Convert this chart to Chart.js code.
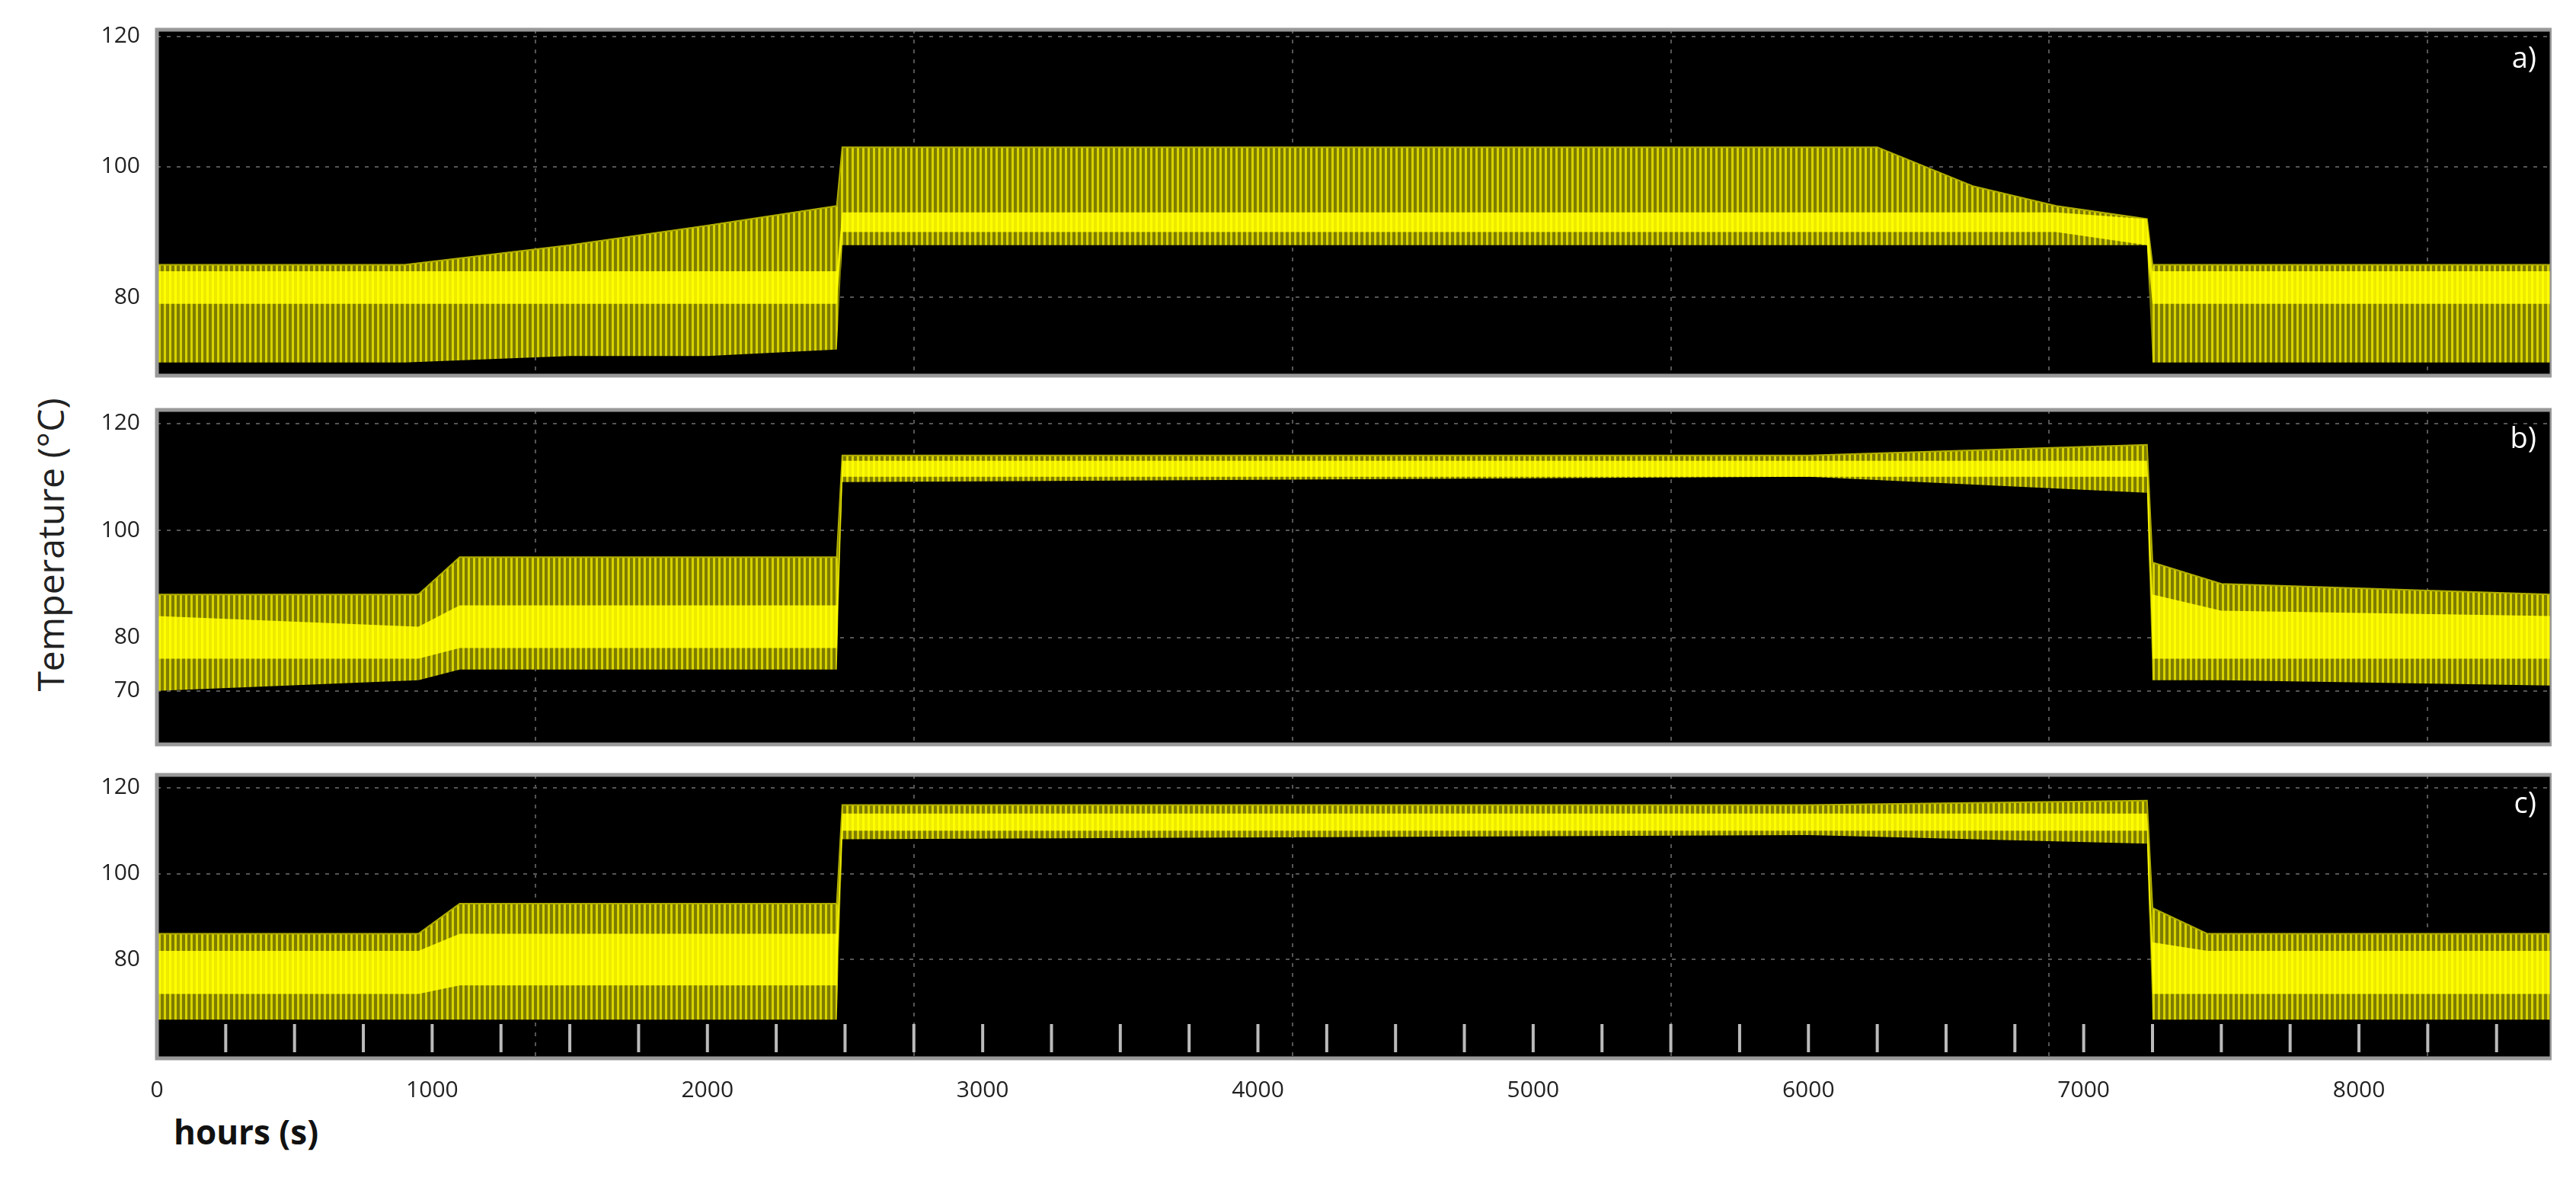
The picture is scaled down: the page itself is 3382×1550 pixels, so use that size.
<!DOCTYPE html>
<html><head><meta charset="utf-8">
<script src="https://cdn.jsdelivr.net/npm/chart.js@4"></script>
<style>
body{margin:0;background:#fff;width:3382px;height:1550px;position:relative;overflow:hidden;font-family:"Open Sans",sans-serif}
.p{position:absolute}
#yt{position:absolute;left:65px;top:715px;transform:translate(-50%,-50%) rotate(-90deg);font-size:48px;color:#222;white-space:nowrap}
#xt{position:absolute;left:228px;top:1455px;font-size:44px;font-weight:bold;color:#111}
</style></head><body>
<div id="yt">Temperature (°C)</div>
<div id="xt">hours (s)</div>
<div class="p" style="left:40px;top:-1px;width:3310px;height:534px"><canvas id="ca"></canvas></div>
<div class="p" style="left:40px;top:498px;width:3310px;height:519px"><canvas id="cb"></canvas></div>
<div class="p" style="left:40px;top:977px;width:3310px;height:496px"><canvas id="cc"></canvas></div>
<script>
// ---- data ----
const gridX = [1375, 2750, 4125, 5500, 6875, 8250];
const xTicks = [0,1000,2000,3000,4000,5000,6000,7000,8000];

const aX      = [0,900,1500,2000,2470,2490,6250,6600,6900,7230,7250,8700];
const aHi     = [85,85,88,91,94,103,103,97,94,92,85,85];
const aLo     = [70,70,71,71,72,88,88,88,88,88,70,70];
const aCoreHi = [84,84,84,84,84,93,93,93,93,92,84,84];
const aCoreLo = [79,79,79,79,79,90,90,90,90,88,79,79];
const aTicks  = [80,100,120];

const bX      = [0,950,1100,2470,2490,6000,7230,7250,7500,8700];
const bHi     = [88,88,95,95,114,114,116,94,90,88];
const bLo     = [70,72,74,74,109,110,107,72,72,71];
const bCoreHi = [84,82,86,86,113,113,113,88,85,84];
const bCoreLo = [76,76,78,78,110,110,110,76,76,76];
const bTicks  = [70,80,100,120];

const cX      = [0,950,1100,2470,2490,6000,7230,7250,7450,8700];
const cHi     = [86,86,93,93,116,116,117,92,86,86];
const cLo     = [66,66,66,66,108,109,107,66,66,66];
const cCoreHi = [82,82,86,86,114,114,114,84,82,82];
const cCoreLo = [72,72,74,74,110,110,110,72,72,72];
const cTicks  = [80,100,120];

// ---- style ----
function stripe(a,b){
  const c=document.createElement('canvas');c.width=7;c.height=10;
  const g=c.getContext('2d');g.fillStyle=b;g.fillRect(0,0,7,10);
  g.fillStyle=a;g.fillRect(0,0,3,10);
  return g.createPattern(c,'repeat');
}
const pat=stripe('#d6d200','#7e7c00');
const corePat=stripe('#ffff00','#eeea00');
const pts=(xs,ys)=>xs.map((x,i)=>({x,y:ys[i]}));

const bgPlugin={id:'bg',beforeDraw(ch){const a=ch.chartArea,g=ch.ctx;g.save();g.fillStyle='#000';g.fillRect(a.left,a.top,a.right-a.left,a.bottom-a.top);g.restore();},
 afterDraw(ch,args,o){const a=ch.chartArea,g=ch.ctx;g.save();
  g.strokeStyle='#999';g.lineWidth=5;g.strokeRect(a.left,a.top,a.right-a.left,a.bottom-a.top);
  g.fillStyle='#fff';g.font='38px "Open Sans"';g.textAlign='right';g.textBaseline='top';g.fillText(o.label,a.right-20,a.top+20);
  if(o.minor){const xs=ch.scales.x;g.strokeStyle='#bbb';g.lineWidth=4;
    for(let v=250;v<8700;v+=250){const px=xs.getPixelForValue(v);g.beginPath();g.moveTo(px,a.bottom-8);g.lineTo(px,a.bottom-45);g.stroke();}}
  g.restore();}};

function make(id,xs,hi,lo,chi,clo,ymin,ymax,yt,label,showX,minor){
  new Chart(document.getElementById(id),{type:'line',
   data:{datasets:[
    {data:pts(xs,clo),borderWidth:0,pointRadius:0,fill:false,borderColor:'transparent'},
    {data:pts(xs,chi),borderWidth:0,pointRadius:0,fill:'-1',backgroundColor:corePat,borderColor:'transparent'},
    {data:pts(xs,lo),borderWidth:0,pointRadius:0,fill:false,borderColor:'transparent'},
    {data:pts(xs,hi),borderWidth:2,borderColor:'#b0ad00',pointRadius:0,fill:'-1',backgroundColor:pat}
   ]},
   options:{responsive:true,maintainAspectRatio:false,animation:false,layout:{padding:{top:14,right:0}},
    plugins:{legend:{display:false},tooltip:{enabled:false},bg:{label,minor}},
    scales:{
     x:{type:'linear',min:0,max:8700,display:true,
        afterBuildTicks:s=>{s.ticks=xTicks.map(v=>({value:v}));},
        grid:{display:false,drawTicks:false},border:{display:false},
        ticks:{display:showX,color:'#222',font:{size:30,family:'"Open Sans"'},padding:24,maxRotation:0,callback:v=>String(v)}},
     gx:{type:'linear',min:0,max:8700,display:true,position:'top',
        afterBuildTicks:s=>{s.ticks=gridX.map(v=>({value:v}));},
        ticks:{display:false},border:{display:false,dash:[5,8]},
        grid:{color:'#555',lineWidth:2,drawTicks:false},afterFit:s=>{s.height=0;}},
     y:{min:ymin,max:ymax,afterBuildTicks:s=>{s.ticks=yt.map(v=>({value:v}));},
        afterFit:s=>{s.width=166;},
        border:{display:false,dash:[5,8]},
        grid:{color:'#555',lineWidth:2,drawTicks:false},
        ticks:{color:'#222',font:{size:30,family:'"Open Sans"'},padding:22,callback:v=>String(v)}}
    }},plugins:[bgPlugin]});
}
make('ca',aX,aHi,aLo,aCoreHi,aCoreLo,68,121,aTicks,'a)',false,false);
make('cb',bX,bHi,bLo,bCoreHi,bCoreLo,60,122.5,bTicks,'b)',false,false);
make('cc',cX,cHi,cLo,cCoreHi,cCoreLo,57,123,cTicks,'c)',true,true);
</script></body></html>
